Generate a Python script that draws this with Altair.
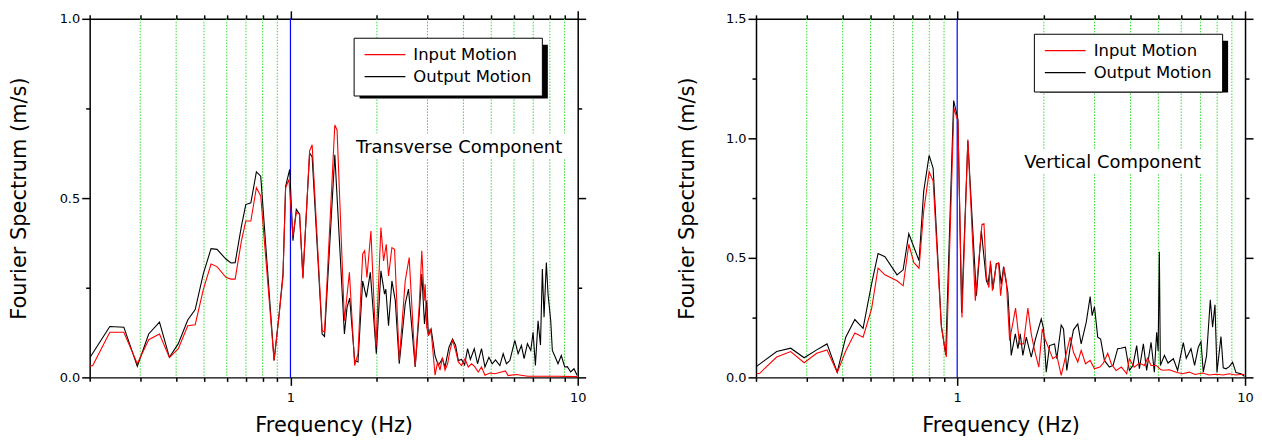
import altair as alt
import pandas as pd

FONT = "DejaVu Sans"

# ---- Transverse component (left panel): (frequency Hz, amplitude m/s)
tr_input = [(0.200,0.031),(0.205,0.033),(0.235,0.126),(0.263,0.126),(0.293,0.038),(0.321,0.105),(0.350,0.121),(0.379,0.055),(0.407,0.080),(0.439,0.144),(0.466,0.147),(0.497,0.244),(0.529,0.316),(0.555,0.309),(0.596,0.279),(0.621,0.274),(0.642,0.274),(0.675,0.381),(0.699,0.436),(0.728,0.436),(0.761,0.529),(0.788,0.506),(0.877,0.047),(0.912,0.170),(0.942,0.280),(0.962,0.529),(0.988,0.552),(1.020,0.394),(1.048,0.460),(1.076,0.455),(1.105,0.275),(1.166,0.632),(1.190,0.649),(1.289,0.130),(1.314,0.127),(1.427,0.704),(1.453,0.690),(1.541,0.158),(1.604,0.293),(1.673,0.033),(1.718,0.066),(1.784,0.344),(1.813,0.353),(1.846,0.279),(1.906,0.408),(1.984,0.084),(2.065,0.418),(2.110,0.325),(2.155,0.371),(2.195,0.283),(2.255,0.362),(2.304,0.357),(2.392,0.047),(2.509,0.269),(2.590,0.334),(2.718,0.030),(2.807,0.200),(2.866,0.353),(2.921,0.214),(2.944,0.260),(2.981,0.140),(3.022,0.117),(3.063,0.135),(3.102,0.112),(3.187,0.006),(3.254,0.043),(3.317,0.020),(3.379,0.056),(3.452,0.020),(3.524,0.038),(3.593,0.075),(3.668,0.103),(3.758,0.075),(3.840,0.043),(3.942,0.033),(4.051,0.052),(4.159,0.029),(4.271,0.038),(4.380,0.030),(4.505,0.015),(4.625,0.029),(4.754,0.006),(4.948,0.012),(5.150,0.010),(5.427,0.015),(5.600,0.018),(5.725,0.005),(6.100,0.008),(6.700,0.003),(7.500,0.003),(8.500,0.003),(9.964,0.002)]
tr_output = [(0.200,0.054),(0.235,0.142),(0.263,0.140),(0.293,0.031),(0.321,0.121),(0.350,0.154),(0.379,0.056),(0.407,0.094),(0.439,0.160),(0.466,0.189),(0.497,0.288),(0.529,0.359),(0.555,0.357),(0.596,0.330),(0.621,0.319),(0.642,0.320),(0.675,0.422),(0.699,0.482),(0.728,0.487),(0.761,0.573),(0.788,0.561),(0.877,0.047),(0.912,0.172),(0.942,0.289),(0.962,0.533),(0.994,0.580),(1.020,0.381),(1.048,0.469),(1.076,0.455),(1.105,0.279),(1.166,0.626),(1.190,0.615),(1.289,0.121),(1.314,0.114),(1.427,0.621),(1.541,0.121),(1.574,0.195),(1.608,0.221),(1.673,0.047),(1.718,0.043),(1.784,0.269),(1.838,0.223),(1.897,0.293),(1.990,0.066),(2.065,0.297),(2.126,0.232),(2.148,0.246),(2.195,0.144),(2.255,0.269),(2.317,0.214),(2.392,0.038),(2.509,0.205),(2.576,0.246),(2.718,0.029),(2.807,0.177),(2.866,0.288),(2.928,0.149),(2.981,0.214),(3.022,0.117),(3.087,0.135),(3.119,0.112),(3.187,0.060),(3.273,0.033),(3.379,0.052),(3.452,0.029),(3.564,0.084),(3.668,0.107),(3.758,0.089),(3.840,0.047),(3.940,0.050),(4.040,0.035),(4.136,0.080),(4.230,0.050),(4.364,0.080),(4.480,0.038),(4.625,0.080),(4.754,0.029),(4.908,0.056),(5.039,0.038),(5.174,0.049),(5.358,0.033),(5.501,0.066),(5.648,0.038),(5.804,0.047),(6.041,0.103),(6.202,0.066),(6.368,0.089),(6.506,0.052),(6.682,0.094),(6.865,0.075),(6.993,0.126),(7.123,0.033),(7.277,0.158),(7.420,0.090),(7.532,0.302),(7.635,0.168),(7.777,0.320),(7.883,0.232),(8.055,0.158),(8.159,0.075),(8.357,0.056),(8.539,0.038),(8.767,0.061),(9.009,0.029),(9.200,0.030),(9.451,0.015),(9.704,0.024),(9.964,0.005)]

# ---- Vertical component (right panel)
ve_input = [(0.201,0.015),(0.206,0.017),(0.236,0.085),(0.264,0.108),(0.294,0.061),(0.325,0.101),(0.353,0.115),(0.383,0.020),(0.410,0.110),(0.441,0.186),(0.471,0.168),(0.504,0.286),(0.531,0.457),(0.561,0.429),(0.618,0.404),(0.649,0.383),(0.679,0.557),(0.707,0.480),(0.737,0.457),(0.765,0.696),(0.799,0.860),(0.825,0.821),(0.881,0.210),(0.917,0.085),(0.974,1.126),(1.006,1.071),(1.039,0.251),(1.089,0.995),(1.156,0.321),(1.219,0.640),(1.239,0.643),(1.263,0.420),(1.289,0.376),(1.304,0.488),(1.325,0.363),(1.368,0.474),(1.393,0.480),(1.415,0.342),(1.453,0.460),(1.481,0.404),(1.521,0.154),(1.595,0.290),(1.647,0.140),(1.700,0.140),(1.760,0.290),(1.808,0.182),(1.857,0.113),(1.921,0.043),(1.975,0.203),(2.028,0.154),(2.093,0.113),(2.149,0.078),(2.220,0.090),(2.298,0.008),(2.392,0.099),(2.469,0.168),(2.535,0.105),(2.624,0.064),(2.696,0.113),(2.791,0.057),(2.897,0.071),(2.999,0.036),(3.130,0.043),(3.221,0.060),(3.334,0.101),(3.430,0.057),(3.564,0.029),(3.720,0.043),(3.880,0.015),(3.964,0.078),(4.120,0.043),(4.295,0.060),(4.470,0.050),(4.588,0.081),(4.715,0.050),(4.908,0.050),(5.100,0.032),(5.200,0.030),(5.458,0.032),(5.800,0.020),(6.070,0.015),(6.402,0.022),(6.700,0.012),(7.121,0.018),(7.500,0.010),(7.926,0.013),(8.400,0.010),(8.814,0.015),(9.300,0.010),(9.798,0.013),(9.950,0.012)]
ve_output = [(0.201,0.046),(0.236,0.108),(0.264,0.122),(0.294,0.082),(0.325,0.115),(0.353,0.140),(0.383,0.022),(0.410,0.168),(0.441,0.242),(0.471,0.205),(0.504,0.390),(0.531,0.518),(0.561,0.505),(0.618,0.429),(0.649,0.450),(0.679,0.601),(0.737,0.488),(0.765,0.779),(0.799,0.929),(0.825,0.874),(0.881,0.217),(0.912,0.095),(0.972,1.158),(1.006,1.080),(1.036,0.270),(1.089,0.990),(1.166,0.342),(1.213,0.613),(1.263,0.404),(1.279,0.390),(1.307,0.474),(1.331,0.369),(1.368,0.476),(1.396,0.476),(1.423,0.390),(1.449,0.463),(1.500,0.355),(1.541,0.092),(1.592,0.182),(1.625,0.120),(1.656,0.182),(1.691,0.092),(1.738,0.168),(1.808,0.085),(1.870,0.160),(1.959,0.245),(1.996,0.203),(2.039,0.022),(2.093,0.133),(2.179,0.140),(2.219,0.078),(2.298,0.219),(2.341,0.203),(2.403,0.029),(2.469,0.126),(2.535,0.199),(2.624,0.224),(2.696,0.140),(2.807,0.230),(2.897,0.338),(2.944,0.258),(2.999,0.296),(3.078,0.168),(3.150,0.160),(3.247,0.071),(3.379,0.043),(3.480,0.050),(3.610,0.120),(3.700,0.122),(3.840,0.126),(3.964,0.029),(4.080,0.050),(4.203,0.133),(4.295,0.036),(4.434,0.140),(4.552,0.029),(4.715,0.147),(4.842,0.022),(4.932,0.189),(4.990,0.110),(5.039,0.526),(5.080,0.050),(5.247,0.092),(5.400,0.060),(5.636,0.078),(5.832,0.029),(6.104,0.145),(6.250,0.080),(6.490,0.120),(6.680,0.050),(6.882,0.126),(7.031,0.150),(7.161,0.022),(7.350,0.090),(7.574,0.325),(7.714,0.210),(7.862,0.304),(7.990,0.022),(8.249,0.171),(8.400,0.040),(8.585,0.036),(8.814,0.045),(9.053,0.064),(9.300,0.020),(9.674,0.015),(9.950,0.004)]

x_ticks = [0.2, 0.3, 0.4, 0.5, 0.6, 0.7, 0.8, 0.9, 1, 2, 3, 4, 5, 6, 7, 8, 9, 10]
grid_freqs = [0.3, 0.4, 0.5, 0.6, 0.7, 0.8, 0.9, 2, 3, 4, 5, 6, 7, 8, 9]
marker_freq = [1]
series_names = ["Input Motion", "Output Motion"]
series_colors = ["#ff0000", "#000000"]

XMAJ = "datum.value == 1 || datum.value == 10"
YMAJ = "abs(datum.value * 2 - round(datum.value * 2)) < 0.000001"


def tick_size(test):
    return {"condition": {"test": test, "value": 8}, "value": 4}


def panel(inp, out, ymax, y_ticks, width, note, note_pos, note_box, leg_xy, shadow, ytitle_pad):
    xs = alt.Scale(type="log", domain=[0.2, 10], nice=False)
    ys = alt.Scale(domain=[0, ymax], nice=False, zero=True)
    common_axis = dict(domainColor="black", tickColor="black", domainWidth=1.5, tickWidth=1.5,
                       labelColor="black", titleColor="black", labelFont=FONT, titleFont=FONT,
                       titleFontWeight="normal", grid=False, labelFontSize=13, titleFontSize=21)

    df_in = pd.DataFrame(inp, columns=["f", "v"]).assign(s=series_names[0])
    df_out = pd.DataFrame(out, columns=["f", "v"]).assign(s=series_names[1])

    color_scale = alt.Scale(domain=series_names, range=series_colors)
    legend = alt.Legend(orient="none", legendX=leg_xy[0], legendY=leg_xy[1],
                        fillColor="white", strokeColor="black", padding=10,
                        symbolType="stroke", symbolSize=1681, symbolStrokeWidth=1.2,
                        labelFont=FONT, labelFontSize=16.5, labelColor="black",
                        labelOffset=7, rowPadding=5, clipHeight=14, labelLimit=300)

    grid = alt.Chart(pd.DataFrame({"f": grid_freqs})).mark_rule(
        color="#33dd33", strokeWidth=1, strokeDash=[1.5, 1.5]
    ).encode(x=alt.X("f:Q", scale=xs, axis=None))

    blue = alt.Chart(pd.DataFrame({"f": marker_freq})).mark_rule(
        color="#0000ff", strokeWidth=1.2
    ).encode(x=alt.X("f:Q", scale=xs, axis=None))

    # white backing behind the annotation; also carries the mirrored top/right axes
    box = alt.Chart(pd.DataFrame({"f1": [note_box[0]], "f2": [note_box[1]],
                                  "v1": [note_box[2]], "v2": [note_box[3]]})).mark_rect(
        color="white"
    ).encode(
        x=alt.X("f1:Q", scale=xs, axis=alt.Axis(orient="top", values=x_ticks, labels=False,
                                                   tickSize=tick_size(XMAJ), title=None,
                                                   **common_axis)),
        x2="f2:Q",
        y=alt.Y("v1:Q", scale=ys, axis=alt.Axis(orient="right", values=y_ticks, labels=False,
                                                   tickSize=tick_size(YMAJ), title=None,
                                                   **common_axis)),
        y2="v2:Q",
    )

    line_out = alt.Chart(df_out).mark_line(strokeWidth=1.1, clip=True).encode(
        x=alt.X("f:Q", scale=xs, title="Frequency (Hz)",
                axis=alt.Axis(orient="bottom", values=x_ticks,
                              labelExpr="datum.value == 1 ? '1' : (datum.value == 10 ? '10' : '')",
                              tickSize=tick_size(XMAJ), labelPadding=6, titlePadding=10,
                              labelFlush=False, labelOverlap=False, **common_axis)),
        y=alt.Y("v:Q", scale=ys, title="Fourier Spectrum (m/s)",
                axis=alt.Axis(orient="left", values=y_ticks,
                              labelExpr="abs(datum.value * 2 - round(datum.value * 2)) < 0.000001 ? format(datum.value, '.1f') : ''",
                              tickSize=tick_size(YMAJ), labelPadding=2, titlePadding=ytitle_pad,
                              labelOverlap=False, **common_axis)),
        color=alt.Color("s:N", scale=color_scale, title=None, legend=legend),
    )
    line_in = alt.Chart(df_in).mark_line(strokeWidth=1.1, clip=True).encode(
        x=alt.X("f:Q", scale=xs, axis=None),
        y=alt.Y("v:Q", scale=ys, axis=None),
        color=alt.Color("s:N", scale=color_scale, title=None, legend=legend),
    )

    text = alt.Chart(pd.DataFrame({"f": [note_pos[0]], "v": [note_pos[1]], "t": [note]})).mark_text(
        align="left", baseline="middle", font=FONT, fontSize=18, color="black"
    ).encode(x=alt.X("f:Q", scale=xs, axis=None), y=alt.Y("v:Q", scale=ys, axis=None), text="t:N")

    shadow_rect = alt.Chart(pd.DataFrame({"k": [0]})).mark_rect(color="black").encode(
        x=alt.value(shadow[0]), x2=alt.value(shadow[1]),
        y=alt.value(shadow[2]), y2=alt.value(shadow[3]),
    )

    return alt.layer(grid, blue, box, line_out, line_in, text, shadow_rect).resolve_axis(
        x="independent", y="independent"
    ).properties(width=width, height=360)


left = panel(tr_input, tr_output, 1.0, [0, 0.25, 0.5, 0.75, 1.0], 490,
             "Transverse Component", (1.69, 0.639), (1.66, 9.1, 0.612, 0.68),
             (265, 19), (271, 460, 26, 80), 30)
right = panel(ve_input, ve_output, 1.5, [0, 0.25, 0.5, 0.75, 1.0, 1.25, 1.5], 491,
              "Vertical Component", (1.71, 0.896), (1.68, 7.45, 0.852, 0.955),
              (279, 15), (285, 474, 22, 74), 28)

chart = alt.hconcat(left, right, spacing=90).resolve_scale(color="independent").resolve_legend(
    color="independent"
).properties(padding={"left": 0, "top": 1, "right": 0, "bottom": 0}).configure_view(stroke=None)

chart.save("out.html", embed_options={"renderer": "svg", "actions": False})
